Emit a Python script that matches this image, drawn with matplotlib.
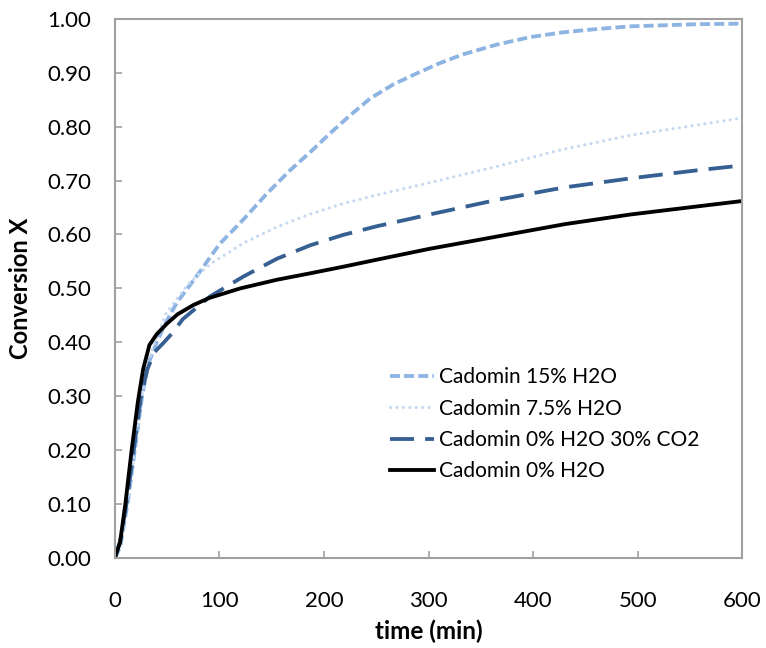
import matplotlib
matplotlib.use('Agg')
import matplotlib.pyplot as plt
from matplotlib.ticker import FormatStrFormatter

# conversion vs time (min) for the four Cadomin runs
t_15 = [0, 5, 12, 19, 26, 32, 40, 47, 59, 78, 100, 123, 145, 167, 187, 206, 225, 244,
        266, 289, 311, 333, 365, 397, 429, 461, 493, 525, 557, 600]
x_15 = [0.0, 0.02, 0.1, 0.2, 0.3, 0.36, 0.40, 0.43, 0.473, 0.522, 0.582, 0.628, 0.675,
        0.718, 0.753, 0.788, 0.821, 0.852, 0.878, 0.899, 0.918, 0.934, 0.952, 0.966,
        0.975, 0.981, 0.986, 0.988, 0.99, 0.991]

t_75 = [0, 5, 12, 19, 26, 32, 38, 49, 70, 91, 123, 155, 187, 218, 250, 301, 365, 429,
        493, 557, 600]
x_75 = [0.0, 0.025, 0.1, 0.2, 0.3, 0.36, 0.40, 0.454, 0.508, 0.545, 0.584, 0.614, 0.638,
        0.657, 0.673, 0.696, 0.726, 0.758, 0.784, 0.803, 0.816]

t_co2 = [0, 5, 11, 18, 25, 31, 38, 46, 54, 65, 91, 123, 155, 187, 218, 250, 301, 365,
         429, 493, 557, 600]
x_co2 = [0.0, 0.03, 0.1, 0.2, 0.3, 0.35, 0.382, 0.398, 0.415, 0.443, 0.485, 0.522, 0.555,
         0.58, 0.599, 0.615, 0.637, 0.664, 0.687, 0.704, 0.719, 0.728]

t_0 = [0, 5, 10, 16, 22, 27, 33, 40, 50, 60, 75, 90, 120, 155, 187, 218, 250, 300, 365,
       430, 493, 557, 600]
x_0 = [0.0, 0.03, 0.1, 0.2, 0.29, 0.35, 0.395, 0.415, 0.435, 0.452, 0.469, 0.482, 0.50,
       0.516, 0.528, 0.54, 0.553, 0.573, 0.596, 0.619, 0.637, 0.652, 0.662]

labels = ['Cadomin 15% H2O', 'Cadomin 7.5% H2O', 'Cadomin 0% H2O 30% CO2', 'Cadomin 0% H2O']

plt.rcParams['font.family'] = ['Lato', 'DejaVu Sans']

fig, ax = plt.subplots(figsize=(7.66, 6.48), dpi=100)
fig.subplots_adjust(left=0.150, right=0.969, bottom=0.139, top=0.971)

ax.plot(t_15, x_15, color='#8DB4E2', lw=2.75, dashes=(2.6, 1.1), label=labels[0])
ax.plot(t_75, x_75, color='#C6D9F1', lw=2.3, linestyle=(0, (0.01, 2.0)),
        dash_capstyle='round', label=labels[1])
ax.plot(t_co2, x_co2, color='#376092', lw=2.75, dashes=(6.3, 2.9), label=labels[2])
ax.plot(t_0, x_0, color='black', lw=2.75, label=labels[3])

ax.set_xlim(0, 600)
ax.set_ylim(0, 1.0)
ax.set_xticks(range(0, 601, 100))
ax.set_yticks([i / 10 for i in range(11)])
ax.yaxis.set_major_formatter(FormatStrFormatter('%.2f'))

for sp in ax.spines.values():
    sp.set_color('#A0A0A0')
    sp.set_linewidth(1.5)
ax.tick_params(direction='in', length=5, width=1.2, color='#A0A0A0', labelsize=16)
ax.tick_params(axis='x', pad=24)
ax.tick_params(axis='y', pad=17)

ax.set_xlabel('time (min)', fontsize=17.5, fontweight='bold', labelpad=6)
ax.set_ylabel('Conversion X', fontsize=17, fontweight='bold', labelpad=11)

ax.legend(loc='upper left', bbox_to_anchor=(0.4386, 0.354), frameon=False,
          fontsize=15, handlelength=2.1, handletextpad=0.25, labelspacing=0.55,
          borderaxespad=0, borderpad=0)

plt.savefig('out.png', dpi=100)
